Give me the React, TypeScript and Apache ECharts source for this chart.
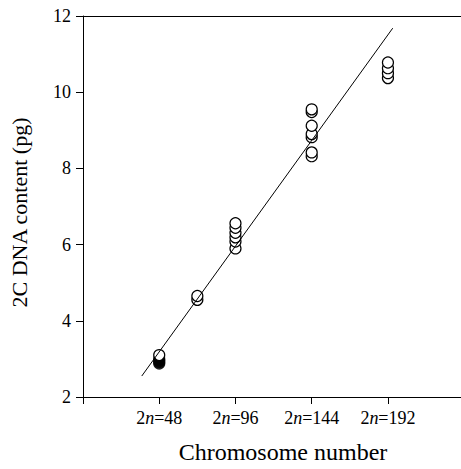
import React, { useEffect, useRef } from "react";
import * as echarts from "echarts";

const FONT = "Liberation Serif";

// chromosome numbers (2n) and 2C DNA content (pg)
const tickValues = [48, 96, 144, 192];
const filled48 = [2.88, 2.92, 2.96, 3.0];
const open48 = [3.1];
const open72 = [4.55, 4.65];
const open96 = [5.9, 6.08, 6.19, 6.31, 6.44, 6.56];
const open144 = [8.32, 8.42, 8.82, 8.9, 9.12, 9.48, 9.55];
const open192 = [10.37, 10.5, 10.63, 10.78];
const lineX = [37, 195];
const lineY = [2.55, 11.68];

export default function App() {
  const ref = useRef<HTMLDivElement>(null);
  useEffect(() => {
    if (!ref.current) return;
    const chart = echarts.init(ref.current, undefined, { renderer: "svg" });
    const openData: number[][] = [];
    const add = (x: number, ys: number[]) => ys.forEach((y) => openData.push([x, y]));
    add(48, open48);
    add(72, open72);
    add(96, open96);
    add(144, open144);
    add(192, open192);
    const filledData = filled48.map((y) => [48, y]);
    const lineData = lineX.map((x, i) => [x, lineY[i]]);

    chart.setOption({
      animation: false,
      grid: { left: 82, right: 0, top: 16, bottom: 72, containLabel: false },
      xAxis: [
        {
          type: "value",
          min: 0,
          max: 238,
          splitLine: { show: false },
          axisLine: { show: true, lineStyle: { color: "#000", width: 1 } },
          axisTick: {
            show: true,
            length: 7,
            inside: false,
            customValues: [0, ...tickValues],
            lineStyle: { color: "#000" },
          },
          axisLabel: {
            margin: 12,
            color: "#000",
            fontFamily: FONT,
            fontSize: 18,
            customValues: tickValues,
            formatter: (v: number) => (tickValues.includes(v) ? `2{i|n}=${v}` : ""),
            rich: { i: { fontStyle: "italic", fontFamily: FONT, fontSize: 18, color: "#000" } },
          },
          name: "Chromosome number",
          nameLocation: "middle",
          nameGap: 43,
          nameTextStyle: { color: "#000", fontFamily: FONT, fontSize: 24, padding: [0, 0, 0, 22] },
        },
        {
          type: "value",
          position: "top",
          min: 0,
          max: 238,
          splitLine: { show: false },
          axisLine: { show: true, onZero: false, lineStyle: { color: "#000", width: 1 } },
          axisTick: { show: false },
          axisLabel: { show: false },
        },
      ],
      yAxis: {
        type: "value",
        min: 2,
        max: 12,
        interval: 2,
        splitLine: { show: false },
        axisLine: { show: true, onZero: false, lineStyle: { color: "#000", width: 1 } },
        axisTick: { show: true, length: 7, lineStyle: { color: "#000" } },
        axisLabel: { margin: 12, color: "#000", fontFamily: FONT, fontSize: 18 },
        name: "2C DNA content (pg)",
        nameLocation: "middle",
        nameGap: 53,
        nameTextStyle: { color: "#000", fontFamily: FONT, fontSize: 22, padding: [0, 12, 0, 0] },
      },
      series: [
        {
          type: "scatter",
          data: filledData,
          symbol: "circle",
          symbolSize: 11,
          itemStyle: { color: "#000", borderColor: "#000", borderWidth: 1.2 },
          z: 2,
        },
        {
          type: "scatter",
          data: openData,
          symbol: "circle",
          symbolSize: 11,
          itemStyle: { color: "#fff", borderColor: "#000", borderWidth: 1.2, opacity: 1 },
          z: 3,
        },
        {
          type: "line",
          data: lineData,
          showSymbol: false,
          symbol: "none",
          lineStyle: { color: "#000", width: 1 },
          z: 4,
        },
      ],
    });
    return () => chart.dispose();
  }, []);
  return (
    <div
      ref={ref}
      style={{ position: "fixed", left: 0, top: 0, width: 461, height: 469, background: "#fff" }}
    />
  );
}
